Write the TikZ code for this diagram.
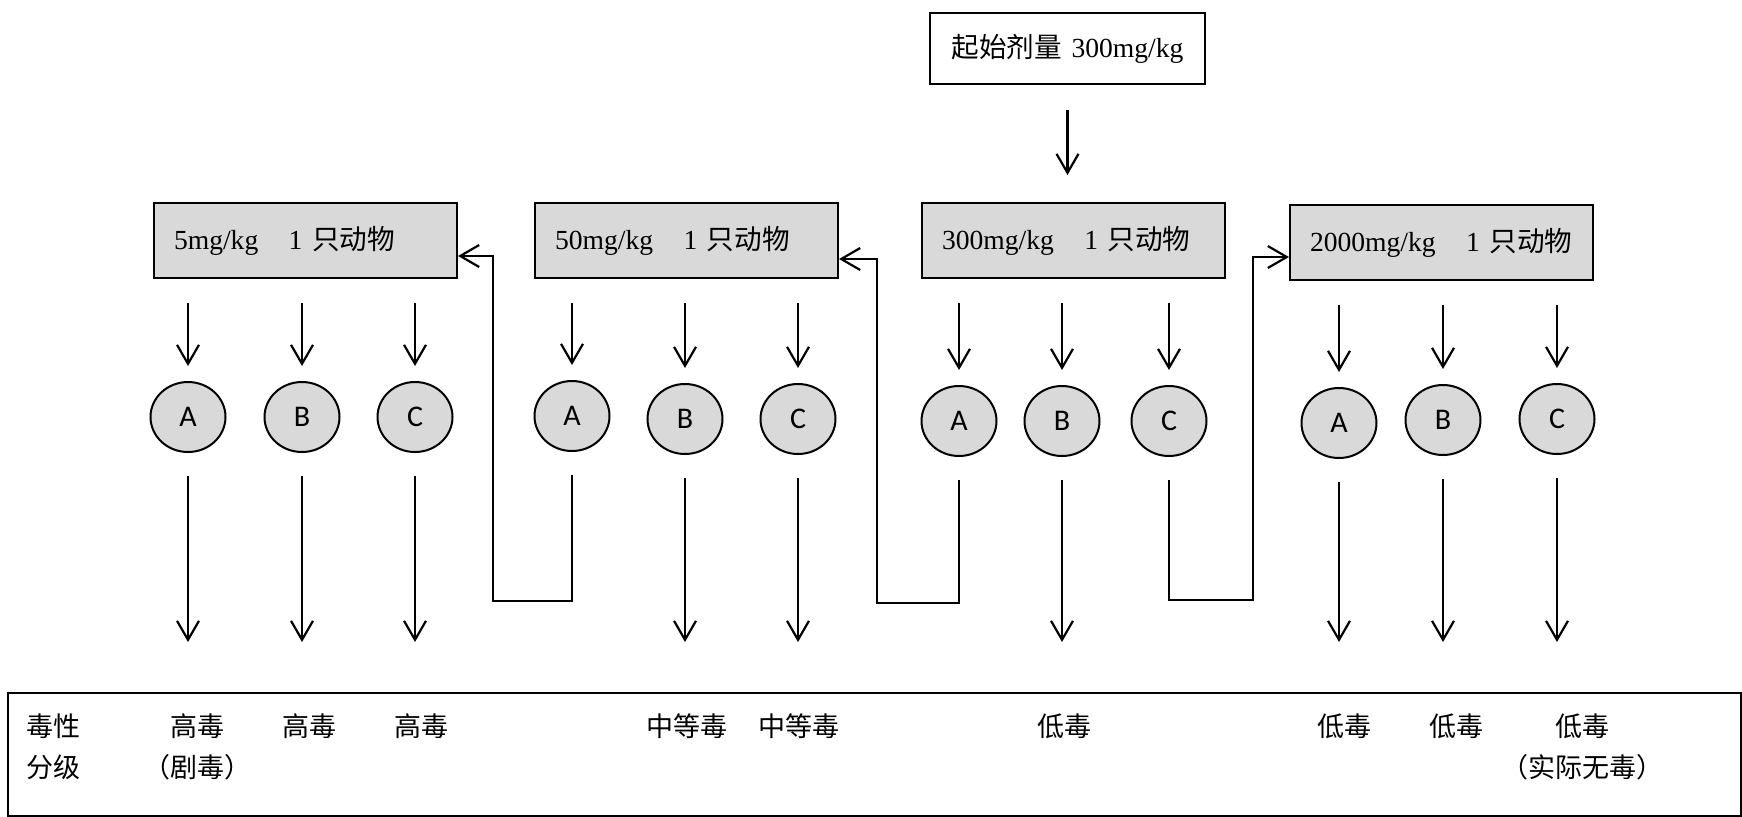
\documentclass[tikz,border=0pt]{standalone}
\usepackage{fontspec}
\setmainfont{Liberation Serif}
\newfontfamily\cjk{Noto Sans CJK SC}
\newfontfamily\lett{Carlito}
\usetikzlibrary{arrows.meta,shapes.geometric,calc}
\definecolor{boxgray}{HTML}{D9D9D9}
\begin{document}
\begin{tikzpicture}[x=0.5pt,y=-0.5pt,
  every node/.style={font=\fontsize{13.8pt}{16pt}\selectfont},
  dosebox/.style={draw, line width=1pt, fill=boxgray, anchor=north west,
    text width=131.5pt, inner xsep=10pt, inner ysep=0pt, align=left,
    minimum height=37.5pt},
  startbox/.style={draw, line width=1pt, anchor=north west,
    minimum width=137.5pt, minimum height=35.5pt, inner sep=0pt},
  animal/.style={draw, line width=1pt, fill=boxgray, ellipse,
    minimum width=37.5pt, minimum height=35pt, inner sep=0pt,
    font=\lett\fontsize{15pt}{18pt}\selectfont},
  arr/.style={line width=1.1pt, -{Straight Barb[length=9.5pt,width=11pt,line width=1.1pt]}},
  grade/.style={font=\cjk\fontsize{13.5pt}{16pt}\selectfont, inner sep=0pt},
  sa/.style={arr, shorten <=12pt, shorten >=7.5pt},
  la/.style={arr, shorten <=11.5pt}
]
\useasboundingbox (0,0) rectangle (1742,816);

% start box
\node[startbox] (start) at (929,12) {{\cjk 起始剂量}\hspace{0.35em}300mg/kg};

% dose boxes
\node[dosebox] (b5) at (153,202) {\mbox{5mg/kg\hspace{1.1em}1\hspace{0.35em}{\cjk 只动物}}};
\node[dosebox] (b50) at (534,202) {\mbox{50mg/kg\hspace{1.1em}1\hspace{0.35em}{\cjk 只动物}}};
\node[dosebox] (b300) at (921,202) {\mbox{300mg/kg\hspace{1.1em}1\hspace{0.35em}{\cjk 只动物}}};
\node[dosebox] (b2000) at (1289,204) {\mbox{2000mg/kg\hspace{1.1em}1\hspace{0.35em}{\cjk 只动物}}};

\draw[arr, shorten <=12.5pt, shorten >=13.5pt] (start.south) -- (start.south |- b300.north);

% animals
\node[animal] (c5a) at (188,417) {A};
\node[animal] (c5b) at (302,417) {B};
\node[animal] (c5c) at (415,417) {C};
\node[animal] (c50a) at (572,416) {A};
\node[animal] (c50b) at (685,419) {B};
\node[animal] (c50c) at (798,419) {C};
\node[animal] (c300a) at (959,421) {A};
\node[animal] (c300b) at (1062,421) {B};
\node[animal] (c300c) at (1169,421) {C};
\node[animal] (c2000a) at (1339,423) {A};
\node[animal] (c2000b) at (1443,420) {B};
\node[animal] (c2000c) at (1557,419) {C};

% short arrows
\foreach \b/\c in {b5/c5a,b5/c5b,b5/c5c,b50/c50a,b50/c50b,b50/c50c,b300/c300a,b300/c300b,b300/c300c,b2000/c2000a,b2000/c2000b,b2000/c2000c}
  \draw[sa] (\b.south -| \c.center) -- (\c.north);

% long arrows
\coordinate (lowrow) at (0,642);
\foreach \c in {c5a,c5b,c5c,c50b,c50c,c300b,c2000a,c2000b,c2000c}
  \draw[la] (\c.south) -- (\c.south |- lowrow);

% feedback paths
\coordinate (fb1) at (493,601);
\coordinate (fb1t) at (493,256);
\draw[la] (c50a.south) -- (c50a.south |- fb1) -- (fb1) -- (fb1t) -- (b5.east |- fb1t);

\coordinate (fb2) at (877,603);
\coordinate (fb2t) at (877,259);
\draw[la] (c300a.south) -- (c300a.south |- fb2) -- (fb2) -- (fb2t) -- (b50.east |- fb2t);

\coordinate (fb3) at (1253,600);
\coordinate (fb3t) at (1253,257);
\draw[la] (c300c.south) -- (c300c.south |- fb3) -- (fb3) -- (fb3t) -- (b2000.west |- fb3t);

% grading table
\node[draw, line width=1pt, anchor=north west, minimum width=866.5pt, minimum height=61.5pt, inner sep=0pt] (table) at (7,692) {};
\node[grade, anchor=west] (g0a) at (26,726) {毒性};
\node[grade, anchor=west] (g0b) at (26,767) {分级};
\node[grade] (g1) at (197,726) {高毒};
\node[grade] (g1b) at (197,767) {（剧毒）};
\node[grade] (g2) at (309,726) {高毒};
\node[grade] (g3) at (421,726) {高毒};
\node[grade] (g5) at (687,726) {中等毒};
\node[grade] (g6) at (799,726) {中等毒};
\node[grade] (g8) at (1064,726) {低毒};
\node[grade] (g10) at (1344,726) {低毒};
\node[grade] (g11) at (1456,726) {低毒};
\node[grade] (g12) at (1582,726) {低毒};
\node[grade] (g12b) at (1582,767) {（实际无毒）};
\end{tikzpicture}
\end{document}
